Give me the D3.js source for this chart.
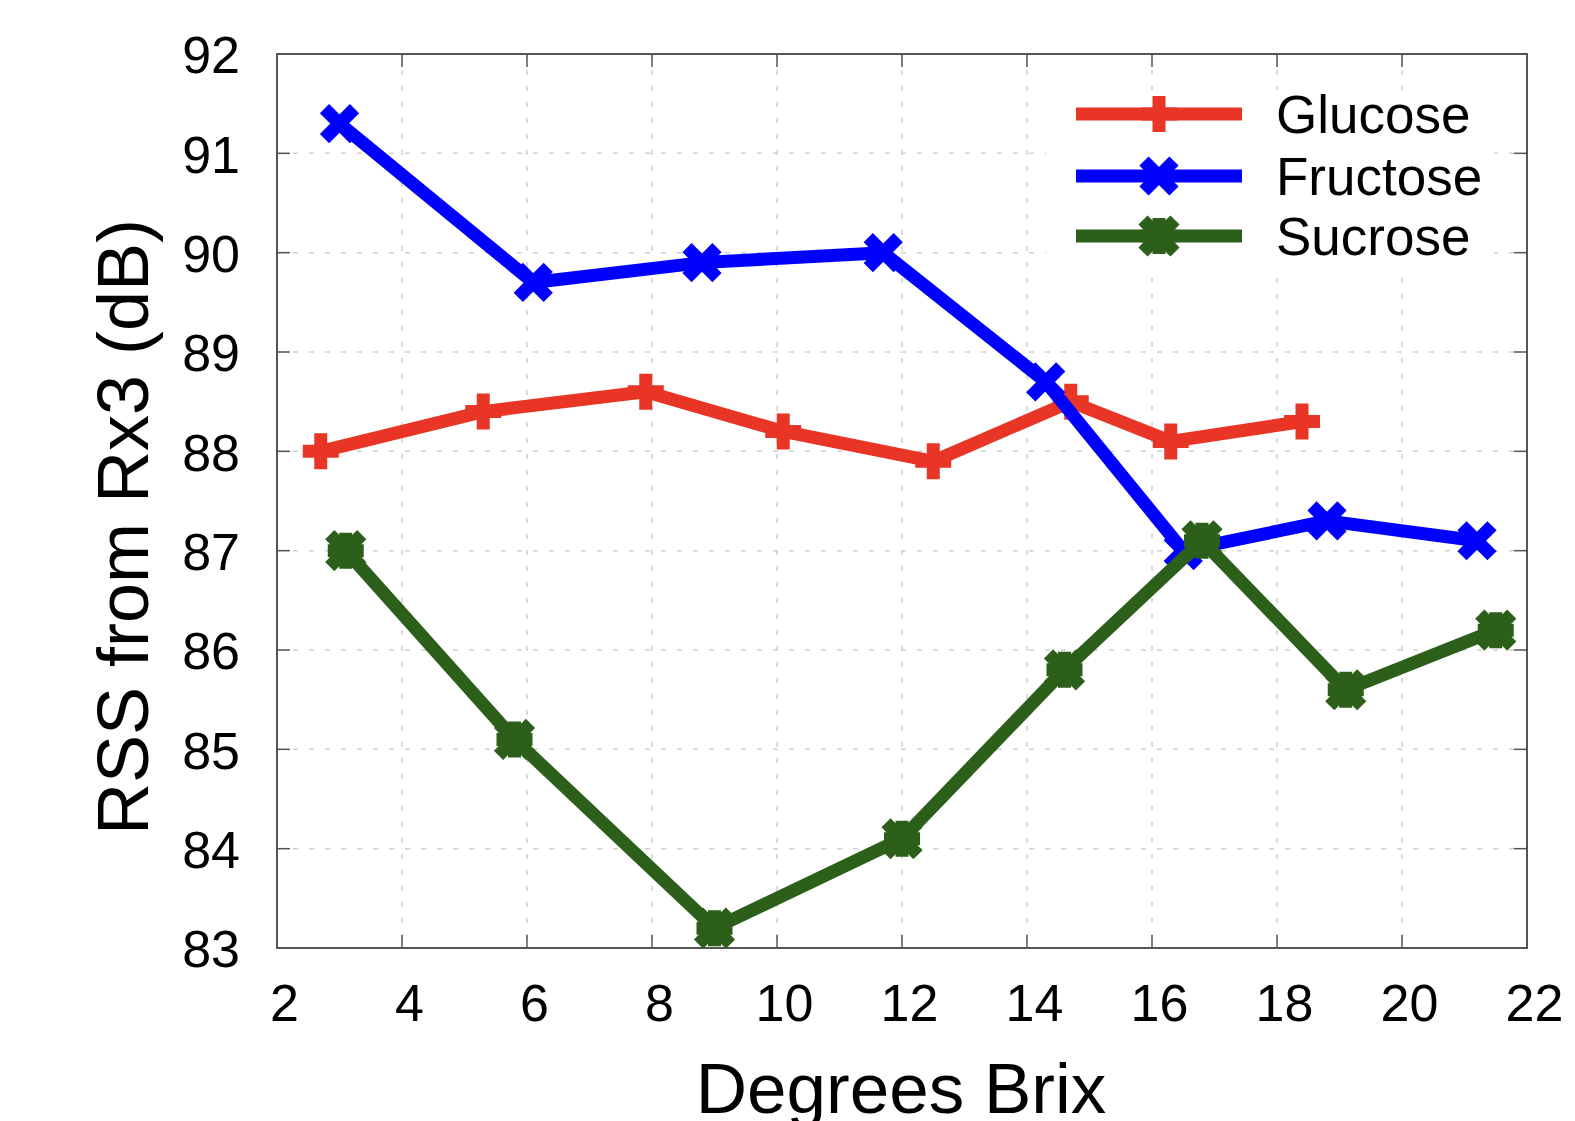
<!DOCTYPE html>
<html>
<head>
<meta charset="utf-8">
<script src="https://cdn.jsdelivr.net/npm/d3@7"></script>
<style>
  body { margin: 0; background: #fff; }
  svg { display: block; }
  text { font-family: "Liberation Sans", Arial, sans-serif; fill: #000; }
</style>
</head>
<body>
<div id="chart"></div>
<script>
// values
var xTicks = [2, 4, 6, 8, 10, 12, 14, 16, 18, 20, 22];
var yTicks = [83, 84, 85, 86, 87, 88, 89, 90, 91, 92];

var glucoseX = [2.7, 5.3, 7.9, 10.1, 12.5, 14.7, 16.3, 18.4];
var glucoseY = [88.0, 88.4, 88.6, 88.2, 87.9, 88.5, 88.1, 88.3];
var fructoseX = [3.0, 6.1, 8.8, 11.7, 14.3, 16.5, 18.8, 21.2];
var fructoseY = [91.3, 89.7, 89.9, 90.0, 88.7, 87.0, 87.3, 87.1];
var sucroseX = [3.1, 5.8, 9.0, 12.0, 14.6, 16.8, 19.1, 21.5];
var sucroseY = [87.0, 85.1, 83.2, 84.1, 85.8, 87.1, 85.6, 86.2];

var seriesNames = ['Glucose', 'Fructose', 'Sucrose'];
var seriesColors = ['#e83526', '#0000ff', '#2c5f1a'];
var seriesMarkers = ['plus', 'cross', 'star'];

let width = 1575;
let height = 1121;
let plotLeft = 277, plotRight = 1527, plotTop = 54, plotBottom = 948;

let xScale = d3.scaleLinear().domain([2, 22]).range([plotLeft, plotRight]);
let yScale = d3.scaleLinear().domain([83, 92]).range([plotBottom, plotTop]);

let svg = d3.select('#chart').append('svg')
    .attr('width', width)
    .attr('height', height);

svg.append('rect').attr('width', width).attr('height', height).attr('fill', '#fff');

// grid
let gridG = svg.append('g').classed('grid', true);
gridG.selectAll('.vgrid')
    .data(xTicks.slice(1, -1))
    .enter().append('line')
    .attr('x1', d => xScale(d)).attr('x2', d => xScale(d))
    .attr('y1', plotTop).attr('y2', plotBottom)
    .attr('stroke', '#cfcfcf').attr('stroke-width', 1.5)
    .attr('stroke-dasharray', '5,11');
gridG.selectAll('.hgrid')
    .data(yTicks.slice(1, -1))
    .enter().append('line')
    .attr('y1', d => yScale(d)).attr('y2', d => yScale(d))
    .attr('x1', plotLeft).attr('x2', plotRight)
    .attr('stroke', '#cfcfcf').attr('stroke-width', 1.5)
    .attr('stroke-dasharray', '5,11');

// legend background hides the grid behind it
svg.append('rect')
    .attr('x', 1046).attr('y', 90)
    .attr('width', 448).attr('height', 178)
    .attr('fill', '#fff');

// axes (labels) via d3
let xAxis = d3.axisBottom(xScale).tickValues(xTicks).tickSize(0).tickPadding(0);
let yAxis = d3.axisLeft(yScale).tickValues(yTicks).tickSize(0).tickPadding(0);

let xAxisG = svg.append('g')
    .attr('transform', 'translate(0,' + plotBottom + ')')
    .call(xAxis);
xAxisG.select('.domain').remove();
xAxisG.selectAll('text')
    .attr('dx', 7)
    .attr('dy', 0)
    .attr('y', 73)
    .style('font-family', '"Liberation Sans", Arial, sans-serif')
    .style('font-size', '52px');

let yAxisG = svg.append('g')
    .attr('transform', 'translate(240,0)')
    .call(yAxis);
yAxisG.select('.domain').remove();
yAxisG.selectAll('text')
    .attr('x', 0)
    .attr('dy', '0.36em')
    .style('font-family', '"Liberation Sans", Arial, sans-serif')
    .style('font-size', '52px');

// inward ticks on all four sides
let tickLen = 13;
let tickG = svg.append('g').attr('stroke', '#555').attr('stroke-width', 1.5);
xTicks.forEach(function (t) {
    tickG.append('line').attr('x1', xScale(t)).attr('x2', xScale(t)).attr('y1', plotBottom).attr('y2', plotBottom - tickLen);
    tickG.append('line').attr('x1', xScale(t)).attr('x2', xScale(t)).attr('y1', plotTop).attr('y2', plotTop + tickLen);
});
yTicks.forEach(function (t) {
    tickG.append('line').attr('y1', yScale(t)).attr('y2', yScale(t)).attr('x1', plotLeft).attr('x2', plotLeft + tickLen);
    tickG.append('line').attr('y1', yScale(t)).attr('y2', yScale(t)).attr('x1', plotRight).attr('x2', plotRight - tickLen);
});

// frame
svg.append('rect')
    .attr('x', plotLeft).attr('y', plotTop)
    .attr('width', plotRight - plotLeft).attr('height', plotBottom - plotTop)
    .attr('fill', 'none').attr('stroke', '#555').attr('stroke-width', 2);

function drawMarker(g, kind, cx, cy, color) {
    let m = g.append('g').attr('transform', 'translate(' + cx + ',' + cy + ')');
    let s = 18;
    if (kind === 'plus' || kind === 'star') {
        m.append('path').attr('d', 'M' + (-s) + ',0H' + s + 'M0,' + (-s) + 'V' + s)
            .attr('stroke', color).attr('stroke-width', 13).attr('fill', 'none');
    }
    if (kind === 'cross' || kind === 'star') {
        let c = kind === 'star' ? 16 : 15;
        m.append('path').attr('d', 'M' + (-c) + ',' + (-c) + 'L' + c + ',' + c + 'M' + (-c) + ',' + c + 'L' + c + ',' + (-c))
            .attr('stroke', color).attr('stroke-width', 13).attr('fill', 'none');
    }
    if (kind === 'star') {
        m.append('rect').attr('x', -15).attr('y', -15).attr('width', 30).attr('height', 30).attr('fill', color);
    }
}

let xsList = [glucoseX, fructoseX, sucroseX];
let ysList = [glucoseY, fructoseY, sucroseY];

let line = d3.line().x(d => xScale(d[0])).y(d => yScale(d[1]));

let plotG = svg.append('g');
seriesNames.forEach(function (name, i) {
    let pts = xsList[i].map((x, j) => [x, ysList[i][j]]);
    let g = plotG.append('g').classed('series', true);
    g.append('path')
        .datum(pts)
        .attr('d', line)
        .attr('fill', 'none')
        .attr('stroke', seriesColors[i])
        .attr('stroke-width', 13)
        .attr('stroke-linejoin', 'round');
    pts.forEach(function (p) {
        drawMarker(g, seriesMarkers[i], xScale(p[0]), yScale(p[1]), seriesColors[i]);
    });
});

// legend
let legendY = [114, 176, 236];
let legendG = svg.append('g');
seriesNames.forEach(function (name, i) {
    legendG.append('line')
        .attr('x1', 1076).attr('x2', 1242)
        .attr('y1', legendY[i]).attr('y2', legendY[i])
        .attr('stroke', seriesColors[i]).attr('stroke-width', 13);
    drawMarker(legendG, seriesMarkers[i], 1159, legendY[i], seriesColors[i]);
    legendG.append('text')
        .attr('x', 1276).attr('y', legendY[i])
        .attr('dy', '0.36em')
        .style('font-size', '53px')
        .text(name);
});

// axis titles
svg.append('text')
    .attr('transform', 'translate(148,527) rotate(-90)')
    .attr('text-anchor', 'middle')
    .style('font-size', '72px')
    .text('RSS from Rx3 (dB)');

svg.append('text')
    .attr('x', 901).attr('y', 1113)
    .attr('text-anchor', 'middle')
    .style('font-size', '71px')
    .text('Degrees Brix');
</script>
</body>
</html>
